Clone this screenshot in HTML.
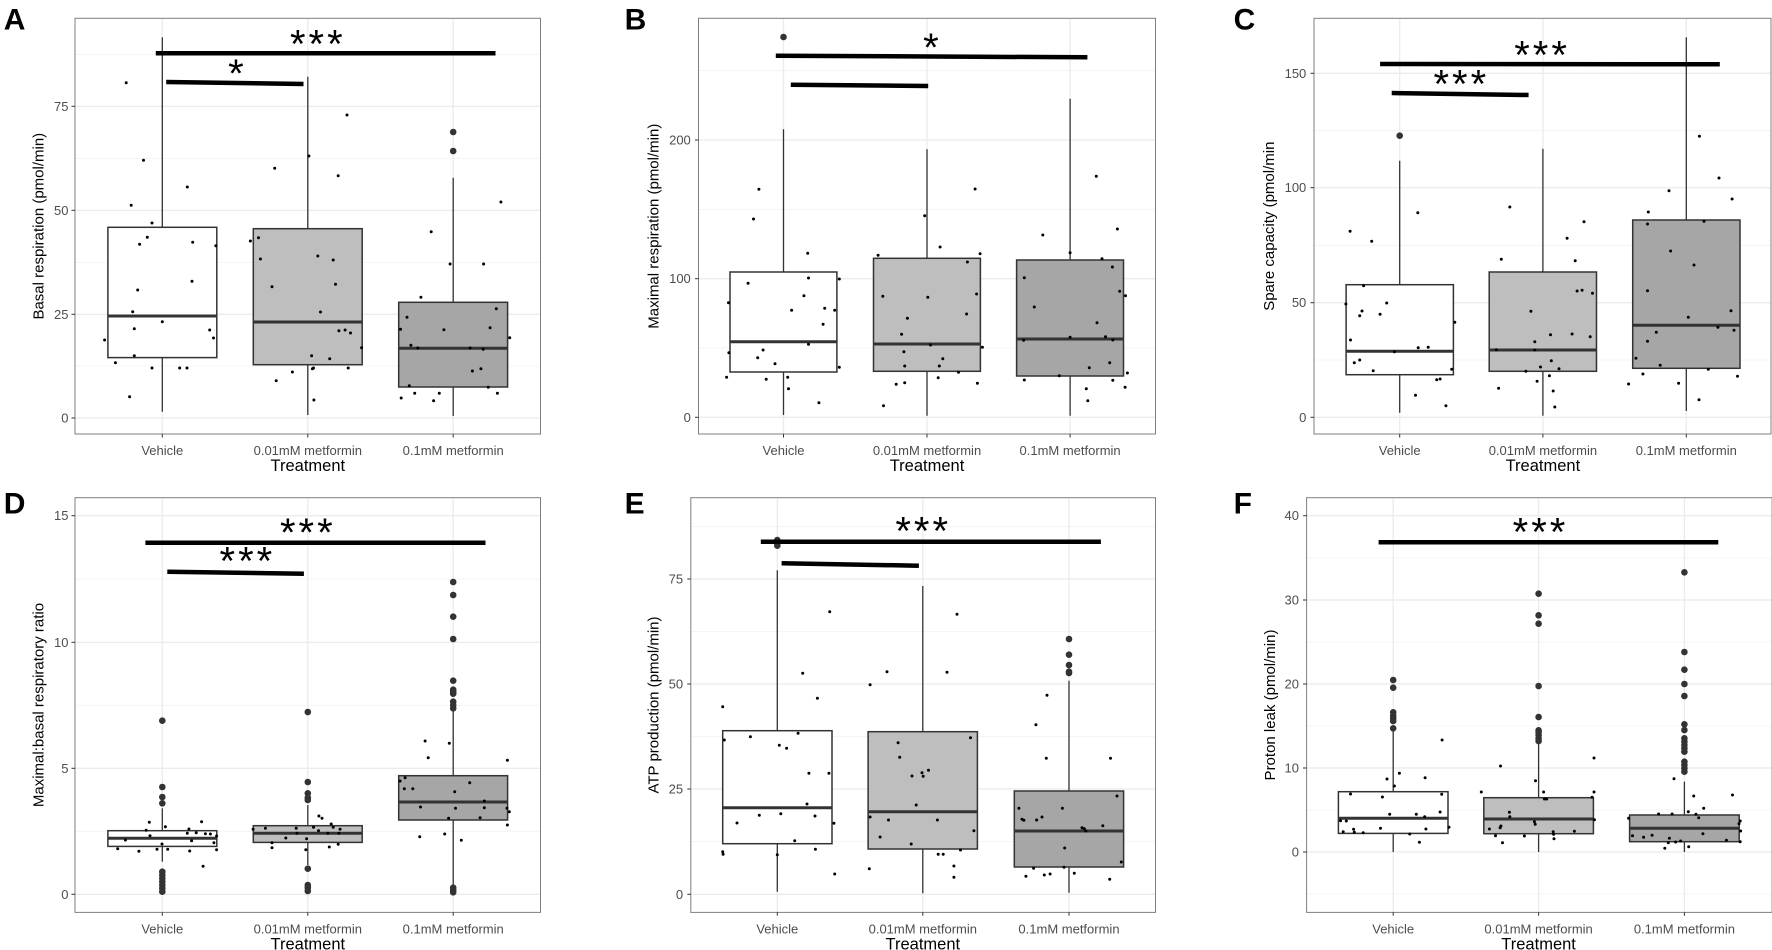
<!DOCTYPE html>
<html><head><meta charset="utf-8">
<style>html,body{margin:0;padding:0;background:#fff;width:1772px;height:950px;overflow:hidden}</style>
</head><body>
<svg id="s" xmlns="http://www.w3.org/2000/svg" width="1772" height="950" viewBox="0 0 1772 950" font-family="Liberation Sans, Arial, sans-serif"></svg>
<script>
const K=0.3847;
const S=document.getElementById('s');
let out='';
const panels=[
{L:'A',ox:0,oy:0,fr:[195,1405,55,1302],cats:[422,800,1178],hw:141.5,
 ticks:[[1254,'0'],[943,'25'],[631,'50'],[319,'75']],minor:[1098,787,475,163],tlx:178,title:'Basal respiration (pmol/min)',ttx:100,
 boxes:[[682,948,1073,112,1235,[]],[686,966,1094,230,1245,[]],[907,1045,1161,533,1248,[396,453]]],
 sig:[[405,160,1288,160,'***',826,140],[432,246,789,252,'*',617,228]],
 pts:[[[328,248],[373,481],[487,561],[341,616],[395,669],[383,712],[363,733],[501,727],[561,737],[358,870],[499,844],[345,935],[422,965],[349,986],[545,990],[555,1014],[272,1020],[349,1067],[300,1088],[395,1104],[467,1104],[486,1104],[337,1190]],
 [[714,505],[803,468],[879,527],[902,345],[651,723],[672,713],[677,777],[707,860],[826,768],[866,780],[872,853],[833,936],[881,992],[897,990],[911,999],[940,1043],[810,1067],[857,1076],[815,1104],[812,1106],[760,1116],[905,1104],[718,1142],[816,1200]],
 [[1302,606],[1121,695],[1170,792],[1257,792],[1094,892],[1058,952],[1290,926],[1041,988],[1154,989],[1274,983],[1325,1013],[1068,1036],[1086,1044],[1222,1044],[1256,1048],[1228,1113],[1250,1106],[1269,1162],[1064,1157],[1078,1180],[1142,1180],[1293,1180],[1043,1194],[1127,1202]]],
 lx:10,ly:88},
{L:'B',ox:590,oy:0,fr:[282,1470,55,1302],cats:[503,876,1248],hw:139,
 ticks:[[1252,'0'],[836,'100'],[420,'200']],minor:[1044,628,212],tlx:262,title:'Maximal respiration (pmol/min)',ttx:165,
 boxes:[[816,1025,1116,388,1245,[111]],[775,1032,1114,448,1247,[]],[780,1017,1128,296,1247,[]]],
 sig:[[483,167,1293,172,'*',890,150],[522,254,879,258,'',0,0]],
 pts:[[[439,568],[425,657],[566,760],[411,850],[568,834],[648,837],[360,908],[556,887],[524,931],[610,925],[636,931],[606,973],[568,1033],[361,1058],[450,1050],[436,1073],[481,1091],[648,1102],[355,1132],[514,1132],[458,1138],[516,1166],[595,1208]],
 [[1001,567],[870,647],[910,741],[1014,761],[749,766],[981,786],[761,889],[878,892],[1005,882],[979,942],[825,955],[810,1003],[816,1055],[885,1035],[1020,1042],[917,1076],[818,1098],[908,1098],[958,1117],[905,1133],[818,1148],[796,1153],[1007,1150],[763,1217]],
 [[1316,529],[1371,687],[1177,705],[1248,758],[1331,776],[1358,801],[1129,833],[1155,921],[1377,874],[1392,887],[1318,968],[1340,1010],[1127,1021],[1359,1020],[1248,1012],[1351,1088],[1298,1103],[1397,1119],[1220,1127],[1129,1140],[1359,1141],[1290,1166],[1391,1162],[1294,1202]]],
 lx:90,ly:88},
{L:'C',ox:1172,oy:0,fr:[369,1557,55,1302],cats:[592,964,1337],hw:139.5,
 ticks:[[1252,'0'],[908,'50'],[563,'100'],[220,'150']],minor:[1080,736,392],tlx:349,title:'Spare capacity (pmol/min',ttx:252,
 boxes:[[854,1054,1124,482,1238,[407]],[816,1050,1114,446,1247,[]],[660,976,1105,112,1233,[]]],
 sig:[[541,192,1424,193,'***',962,172],[571,279,927,285,'***',752,260]],
 pts:[[[463,694],[519,724],[639,638],[498,857],[452,912],[558,909],[494,933],[488,947],[541,943],[735,967],[464,1020],[578,1055],[640,1043],[666,1042],[488,1080],[474,1088],[523,1112],[727,1108],[688,1139],[697,1137],[633,1186],[712,1217]],
 [[878,621],[856,778],[1071,665],[1027,715],[1048,782],[1053,873],[1066,871],[1093,880],[933,934],[943,1025],[984,1004],[1040,1002],[1087,1010],[843,1049],[943,1050],[986,1082],[958,1101],[1006,1106],[920,1114],[981,1127],[949,1144],[849,1165],[991,1173],[995,1221]],
 [[1371,409],[1422,534],[1456,597],[1292,572],[1238,636],[1236,672],[1383,664],[1296,753],[1357,795],[1236,872],[1342,952],[1453,932],[1259,997],[1419,982],[1461,991],[1236,1024],[1206,1075],[1269,1096],[1394,1108],[1224,1122],[1470,1129],[1187,1152],[1317,1150],[1370,1199]]],
 lx:160,ly:88},
{L:'D',ox:0,oy:475,fr:[195,1405,68,1312],cats:[422,800,1178],hw:141.5,
 ticks:[[1258,'0'],[880,'5'],[502,'10'],[122,'15']],minor:[1069,691,312],tlx:178,title:'Maximal:basal respiratory ratio',ttx:100,
 boxes:[[1067,1090,1114,1000,1160,[737,936,966,985,1190,1200,1210,1220,1230,1240,1250]],[1052,1075,1102,990,1170,[711,921,955,968,975,1181,1230,1238,1248]],[902,981,1035,700,1240,[321,360,425,492,617,644,650,656,680,690,700,1238,1245,1252]]],
 sig:[[378,203,1262,203,'***',800,180],[435,290,790,296,'***',643,266]],
 pts:[[[388,1042],[430,1055],[524,1040],[380,1066],[491,1062],[510,1073],[487,1075],[534,1076],[547,1077],[390,1082],[563,1083],[326,1095],[498,1097],[556,1103],[421,1107],[306,1121],[408,1123],[436,1123],[493,1128],[563,1124],[361,1129],[528,1174]],
 [[690,1060],[658,1063],[770,1060],[815,1057],[829,1023],[837,1030],[861,1047],[866,1057],[884,1063],[828,1067],[772,1075],[852,1075],[881,1075],[743,1089],[797,1091],[707,1103],[879,1108],[707,1118],[856,1116],[795,1124]],
 [[1105,798],[1168,805],[1113,848],[1319,856],[1040,918],[1053,908],[1051,941],[1073,941],[1221,923],[1182,950],[1259,978],[1093,996],[1184,1000],[1259,998],[1318,1000],[1324,1010],[1166,1030],[1248,1028],[1319,1050],[1091,1085],[1156,1077],[1199,1096]]],
 lx:10,ly:115},
{L:'E',ox:590,oy:475,fr:[262,1470,68,1312],cats:[487,865,1245],hw:142,
 ticks:[[1258,'0'],[942,'25'],[627,'50'],[312,'75']],minor:[1100,785,470,155],tlx:242,title:'ATP production (pmol/min)',ttx:165,
 boxes:[[767,998,1106,286,1250,[195,205,212]],[770,1010,1122,333,1255,[]],[948,1068,1176,617,1253,[492,539,570,590,594]]],
 sig:[[444,200,1328,200,'***',866,175],[498,265,855,272,'',0,0]],
 pts:[[[623,410],[553,595],[591,670],[345,695],[349,795],[417,785],[541,775],[492,811],[511,820],[569,895],[621,895],[564,987],[440,1021],[496,1016],[585,1023],[382,1044],[634,1045],[532,1097],[345,1130],[346,1138],[487,1139],[586,1123],[636,1197]],
 [[954,418],[772,590],[928,592],[728,629],[989,788],[801,803],[805,847],[880,886],[863,893],[837,903],[866,904],[848,990],[728,1026],[776,1035],[903,1035],[754,1086],[998,1067],[835,1107],[963,1125],[905,1138],[918,1138],[946,1173],[726,1181],[946,1207]],
 [[1188,661],[1159,749],[1186,850],[1353,850],[1115,1000],[1228,1000],[1123,1033],[1128,1036],[1161,1035],[1175,1026],[1370,963],[1279,1058],[1285,1061],[1289,1068],[1333,1052],[1234,1119],[1381,1161],[1153,1180],[1232,1177],[1259,1195],[1181,1200],[1196,1197],[1133,1204],[1351,1213]]],
 lx:90,ly:115},
{L:'F',ox:1172,oy:475,fr:[350,1560,68,1312],cats:[575,953,1332],hw:142.5,
 ticks:[[1131,'0'],[879,'10'],[627,'20'],[375,'30'],[122,'40']],minor:[1257,1005,753,501,249],tlx:330,title:'Proton leak (pmol/min)',ttx:255,
 boxes:[[950,1030,1075,760,1131,[615,638,712,722,730,738,760]],[968,1032,1076,800,1131,[356,421,446,633,726,766,772,780,790,798]],[1020,1060,1100,920,1131,[292,531,584,627,663,748,765,790,800,810,820,830,860,870,880,890]]],
 sig:[[537,202,1420,202,'***',958,178]],
 pts:[[[702,795],[591,895],[559,912],[658,908],[578,933],[464,957],[547,966],[701,958],[697,1011],[566,1018],[635,1018],[657,1025],[438,1037],[453,1038],[472,1063],[542,1060],[660,1062],[445,1070],[474,1072],[497,1073],[618,1077],[720,1057],[643,1102]],
 [[1097,849],[854,873],[945,917],[804,951],[966,951],[1097,951],[968,972],[974,972],[1092,967],[877,1012],[878,1025],[942,1040],[944,1048],[1098,1034],[825,1062],[853,1058],[855,1053],[991,1070],[1046,1069],[841,1082],[992,1078],[916,1083],[993,1091],[859,1103]],
 [[1305,911],[1356,963],[1457,960],[1382,1000],[1342,1010],[1265,1017],[1300,1017],[1362,1018],[1369,1028],[1187,1030],[1477,1038],[1474,1046],[1197,1082],[1226,1087],[1248,1081],[1293,1090],[1380,1076],[1478,1068],[1309,1101],[1322,1098],[1441,1096],[1477,1100],[1290,1103],[1281,1120],[1343,1115]]],
 lx:160,ly:115}
];
const fills=['#ffffff','#bebebe','#a6a6a6'];
const names=['Vehicle','0.01mM metformin','0.1mM metformin'];
for(const p of panels){
 const X=z=>(p.ox+z*K).toFixed(1), Y=z=>(p.oy+z/3).toFixed(1);
 const [fl,frr,ft,fb]=p.fr;
 out+=`<rect x="${X(fl)}" y="${Y(ft)}" width="${((frr-fl)*K).toFixed(1)}" height="${((fb-ft)/3).toFixed(1)}" fill="#fff"/>`;
 for(const m of p.minor) out+=`<line x1="${X(fl)}" x2="${X(frr)}" y1="${Y(m)}" y2="${Y(m)}" stroke="#f2f2f2" stroke-width="0.8"/>`;
 for(const t of p.ticks) out+=`<line x1="${X(fl)}" x2="${X(frr)}" y1="${Y(t[0])}" y2="${Y(t[0])}" stroke="#ebebeb" stroke-width="1.3"/>`;
 for(const c of p.cats) out+=`<line x1="${X(c)}" x2="${X(c)}" y1="${Y(ft)}" y2="${Y(fb)}" stroke="#ebebeb" stroke-width="1.3"/>`;
 p.boxes.forEach((b,i)=>{
  const c=p.cats[i];
  out+=`<line x1="${X(c)}" x2="${X(c)}" y1="${Y(b[3])}" y2="${Y(b[4])}" stroke="#333" stroke-width="1.3"/>`;
  out+=`<rect x="${X(c-p.hw)}" y="${Y(b[0])}" width="${(2*p.hw*K).toFixed(1)}" height="${((b[2]-b[0])/3).toFixed(1)}" fill="${fills[i]}" stroke="#333" stroke-width="1.5"/>`;
  out+=`<line x1="${X(c-p.hw)}" x2="${X(c+p.hw)}" y1="${Y(b[1])}" y2="${Y(b[1])}" stroke="#333" stroke-width="3"/>`;
  for(const o of b[5]) out+=`<circle cx="${X(c)}" cy="${Y(o)}" r="3.3" fill="#333"/>`;
 });
 for(const g of p.pts) for(const q of g) out+=`<circle cx="${X(q[0])}" cy="${Y(q[1])}" r="1.5" fill="#000"/>`;
 for(const s of p.sig){
  out+=`<line x1="${X(s[0])}" y1="${Y(s[1])}" x2="${X(s[2])}" y2="${Y(s[3])}" stroke="#000" stroke-width="4.5"/>`;
  if(s[4]) out+=`<text x="${X(s[5])}" y="${(p.oy+s[6]/3+11).toFixed(1)}" font-size="40" letter-spacing="3" text-anchor="middle" fill="#000">${s[4]}</text>`;
 }
 out+=`<rect x="${X(fl)}" y="${Y(ft)}" width="${((frr-fl)*K).toFixed(1)}" height="${((fb-ft)/3).toFixed(1)}" fill="none" stroke="#7f7f7f" stroke-width="1"/>`;
 for(const t of p.ticks){
  out+=`<line x1="${X(fl)-3.5}" x2="${X(fl)}" y1="${Y(t[0])}" y2="${Y(t[0])}" stroke="#333" stroke-width="1"/>`;
  out+=`<text x="${X(p.tlx)}" y="${(p.oy+t[0]/3+4.5).toFixed(1)}" font-size="13" fill="#4d4d4d" text-anchor="end">${t[1]}</text>`;
 }
 p.cats.forEach((c,i)=>{
  out+=`<line x1="${X(c)}" x2="${X(c)}" y1="${Y(fb)}" y2="${(p.oy+fb/3+3.5).toFixed(1)}" stroke="#333" stroke-width="1"/>`;
  out+=`<text x="${X(c)}" y="${(p.oy+fb/3+21).toFixed(1)}" font-size="13" fill="#4d4d4d" text-anchor="middle">${names[i]}</text>`;
 });
 out+=`<text x="${X(p.cats[1])}" y="${(p.oy+fb/3+37).toFixed(1)}" font-size="16.5" fill="#000" text-anchor="middle">Treatment</text>`;
 const cy=(p.oy+(ft+fb)/6).toFixed(1), tx=X(p.ttx);
 out+=`<text transform="translate(${tx},${cy}) rotate(-90)" x="0" y="5" font-size="15" fill="#000" text-anchor="middle">${p.title}</text>`;
 out+=`<text x="${X(p.lx)}" y="${Y(p.ly)}" font-size="30" font-weight="bold" fill="#000">${p.L}</text>`;
}
S.innerHTML=out;
</script>
</body></html>
